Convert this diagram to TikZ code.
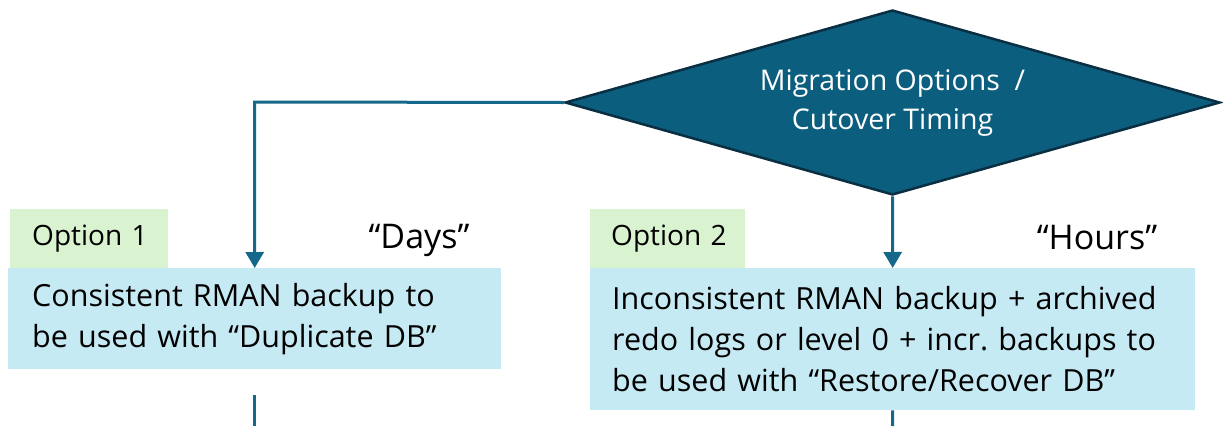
\documentclass[tikz,border=0pt]{standalone}
\usepackage{fontspec}
\setmainfont{Open Sans}
\usetikzlibrary{shapes.geometric,arrows.meta}
\definecolor{diafill}{HTML}{0B5E7E}
\definecolor{diaedge}{HTML}{0A2F42}
\definecolor{conn}{HTML}{15688A}
\definecolor{optgreen}{HTML}{D9F2D0}
\definecolor{boxblue}{HTML}{C6EAF4}
\setlength{\parindent}{0pt}
\frenchspacing
\tikzset{
  decision/.style={diamond, draw=diaedge, line width=2.5pt, fill=diafill, inner sep=0pt,
    shape aspect=3.5, minimum width=655pt, minimum height=185pt, text=white, align=center,
    font=\fontsize{28.5}{39}\selectfont},
  optlabel/.style={rectangle, fill=optgreen, anchor=north west, inner sep=0pt,
    minimum height=59pt, align=left,
    font=\fontsize{28}{30}\selectfont},
  infobox/.style={rectangle, fill=boxblue, anchor=north west, inner sep=0pt,
    align=left, font=\fontsize{30.5}{41}\selectfont},
  timing/.style={font=\fontsize{34}{36}\selectfont},
  connector/.style={draw=conn, line width=3pt, -{Triangle[width=18pt,length=16pt]}},
  stub/.style={draw=conn, line width=3pt},
}
\begin{document}
\begin{tikzpicture}[x=1pt,y=-1pt]
\useasboundingbox (0,0) rectangle (1223,426);
\node[decision] (dia) at (892.5,102.5) {Migration Options \ /\\Cutover Timing};
\node[optlabel, text width=158pt] (opt1) at (10,209) {\hspace*{22pt}Option 1};
\node[optlabel, text width=155pt] (opt2) at (590,209) {\hspace*{21pt}Option 2};
\node[infobox, minimum width=493pt, minimum height=101pt, text width=493pt] (box1) at (8,268) {\hspace*{24pt}\parbox{465pt}{Consistent RMAN backup to\\be used with “Duplicate DB”}};
\node[infobox, minimum width=605pt, minimum height=142pt, text width=605pt] (box2) at (590,268) {\hspace*{22pt}\parbox{580pt}{Inconsistent RMAN backup + archived\\redo logs or level 0 + incr. backups to\\be used with “Restore/Recover DB”}};
\node[timing] (days) at (419,240) {“Days”};
\node[timing] (hours) at (1097,238) {“Hours”};
\coordinate (turn) at (254.5,102);
\coordinate (s1a) at (254.5,395);
\coordinate (s1b) at (254.5,426);
\coordinate (s2b) at (892.5,426);
\draw[connector] (dia.west) -- (turn) -- (box1.north);
\draw[connector] (dia.south) -- (box2.north);
\draw[stub] (s1a) -- (s1b);
\draw[stub] (box2.south) -- (s2b);
\end{tikzpicture}
\end{document}
